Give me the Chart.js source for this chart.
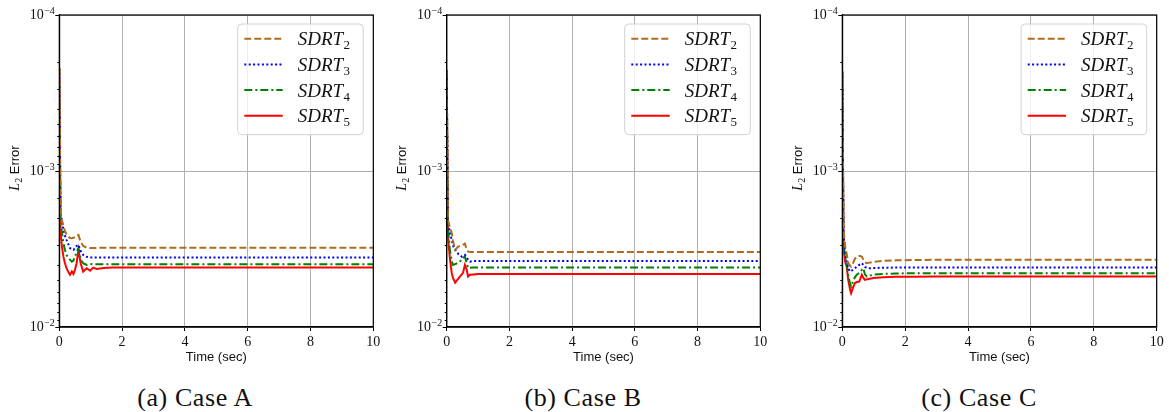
<!DOCTYPE html>
<html>
<head>
<meta charset="utf-8">
<script src="https://cdn.jsdelivr.net/npm/chart.js@4/dist/chart.umd.min.js"></script>
<style>
  body { margin: 0; background: #fff; width: 1169px; height: 412px; position: relative; overflow: hidden; }
  canvas { position: absolute; top: 0; }
  .cap { position: absolute; top: 384px; width: 200px; text-align: center; line-height: 28px;
         font-family: "Liberation Serif", serif; font-size: 26px; letter-spacing: 0.6px; color: #111; }
</style>
</head>
<body>
<canvas id="caseA" width="390" height="375" style="left:0px"></canvas>
<canvas id="caseB" width="390" height="375" style="left:387px"></canvas>
<canvas id="caseC" width="386" height="375" style="left:783px"></canvas>
<div class="cap" style="left:95px">(a) Case A</div>
<div class="cap" style="left:483px">(b) Case B</div>
<div class="cap" style="left:879px">(c) Case C</div>
<script>
// series labels and axis ticks
var labels = ['SDRT2', 'SDRT3', 'SDRT4', 'SDRT5'];
var xTicks = [0, 2, 4, 6, 8, 10];
var decades = [1e-4, 1e-3, 1e-2];
var captions = ['(a) Case A', '(b) Case B', '(c) Case C'];

// Case A
var timeA  = [0, 0.04, 0.08, 0.13, 0.18, 0.23, 0.29, 0.34, 0.4, 0.45, 0.5, 0.55, 0.61, 0.68, 0.76, 0.87, 0.98, 1.08, 1.19, 1.4, 1.7, 2.0, 10];
var sdrt2A = [2.2e-4, 1.8e-3, 2.05e-3, 2.27e-3, 2.42e-3, 2.54e-3, 2.64e-3, 2.69e-3, 2.7e-3, 2.68e-3, 2.66e-3, 2.6e-3, 2.57e-3, 2.85e-3, 3.02e-3, 3.1e-3, 3.12e-3, 3.12e-3, 3.11e-3, 3.1e-3, 3.1e-3, 3.1e-3, 3.1e-3];
var sdrt3A = [2.2e-4, 1.9e-3, 2.06e-3, 2.38e-3, 2.6e-3, 2.76e-3, 2.95e-3, 3.12e-3, 3.18e-3, 3.2e-3, 3.12e-3, 3.02e-3, 2.97e-3, 3.25e-3, 3.45e-3, 3.55e-3, 3.58e-3, 3.58e-3, 3.58e-3, 3.58e-3, 3.58e-3, 3.58e-3, 3.58e-3];
var sdrt4A = [2.2e-4, 2.2e-3, 2.44e-3, 2.9e-3, 3.2e-3, 3.45e-3, 3.62e-3, 3.7e-3, 3.81e-3, 3.75e-3, 3.54e-3, 3.3e-3, 3.12e-3, 3.7e-3, 3.9e-3, 4.0e-3, 3.95e-3, 3.97e-3, 3.96e-3, 3.96e-3, 3.96e-3, 3.96e-3, 3.96e-3];
var sdrt5A = [2.2e-4, 2.5e-3, 3.0e-3, 3.54e-3, 3.9e-3, 4.2e-3, 4.45e-3, 4.63e-3, 4.41e-3, 4.57e-3, 4.3e-3, 3.9e-3, 3.2e-3, 3.9e-3, 4.41e-3, 4.2e-3, 4.35e-3, 4.16e-3, 4.25e-3, 4.18e-3, 4.16e-3, 4.15e-3, 4.15e-3];

// Case B
var timeB  = [0, 0.04, 0.1, 0.16, 0.2, 0.27, 0.37, 0.42, 0.48, 0.52, 0.58, 0.64, 0.68, 0.74, 0.85, 1.0, 1.5, 2.0, 10];
var sdrt2B = [2.25e-4, 2.05e-3, 2.3e-3, 2.49e-3, 2.8e-3, 3.2e-3, 3.05e-3, 3.02e-3, 2.99e-3, 2.97e-3, 2.92e-3, 3.2e-3, 3.28e-3, 3.3e-3, 3.31e-3, 3.31e-3, 3.31e-3, 3.31e-3, 3.31e-3];
var sdrt3B = [2.25e-4, 2.1e-3, 2.5e-3, 2.75e-3, 3.0e-3, 3.2e-3, 3.4e-3, 3.45e-3, 3.54e-3, 3.5e-3, 3.45e-3, 3.6e-3, 3.7e-3, 3.81e-3, 3.78e-3, 3.77e-3, 3.77e-3, 3.77e-3, 3.77e-3];
var sdrt4B = [2.25e-4, 2.3e-3, 3.2e-3, 3.8e-3, 4.0e-3, 3.95e-3, 3.88e-3, 3.8e-3, 3.7e-3, 3.6e-3, 3.54e-3, 3.9e-3, 4.18e-3, 4.17e-3, 4.16e-3, 4.16e-3, 4.16e-3, 4.16e-3, 4.16e-3];
var sdrt5B = [2.25e-4, 2.63e-3, 3.6e-3, 4.5e-3, 4.84e-3, 5.19e-3, 4.9e-3, 4.75e-3, 4.6e-3, 4.5e-3, 4.0e-3, 4.3e-3, 4.75e-3, 4.62e-3, 4.6e-3, 4.58e-3, 4.58e-3, 4.58e-3, 4.58e-3];

// Case C
var timeC  = [0, 0.04, 0.09, 0.14, 0.19, 0.25, 0.28, 0.34, 0.4, 0.46, 0.54, 0.62, 0.67, 0.72, 0.78, 0.83, 1.0, 1.3, 1.7, 2.2, 3, 10];
var sdrt2C = [2.3e-4, 2.4e-3, 3.05e-3, 3.4e-3, 3.9e-3, 4.05e-3, 4.1e-3, 3.9e-3, 3.65e-3, 3.54e-3, 3.5e-3, 3.54e-3, 3.7e-3, 3.85e-3, 3.9e-3, 3.88e-3, 3.82e-3, 3.77e-3, 3.74e-3, 3.72e-3, 3.71e-3, 3.71e-3];
var sdrt3C = [2.3e-4, 2.6e-3, 3.35e-3, 3.8e-3, 4.2e-3, 4.41e-3, 4.38e-3, 4.3e-3, 4.2e-3, 4.1e-3, 4.0e-3, 3.9e-3, 4.0e-3, 4.12e-3, 4.18e-3, 4.2e-3, 4.19e-3, 4.17e-3, 4.16e-3, 4.16e-3, 4.16e-3, 4.16e-3];
var sdrt4C = [2.3e-4, 2.9e-3, 3.6e-3, 3.9e-3, 4.7e-3, 5.3e-3, 5.51e-3, 5.1e-3, 4.8e-3, 4.63e-3, 4.5e-3, 4.3e-3, 4.2e-3, 4.6e-3, 4.75e-3, 4.7e-3, 4.62e-3, 4.57e-3, 4.54e-3, 4.52e-3, 4.52e-3, 4.52e-3];
var sdrt5C = [2.3e-4, 3.1e-3, 3.8e-3, 4.1e-3, 5.0e-3, 5.8e-3, 6.07e-3, 5.6e-3, 5.24e-3, 5.15e-3, 5.11e-3, 4.63e-3, 4.85e-3, 4.99e-3, 4.95e-3, 4.92e-3, 4.85e-3, 4.8e-3, 4.77e-3, 4.76e-3, 4.75e-3, 4.75e-3];

// line styles
var colors = ['#b06c1c', '#0000ff', '#008000', '#ff0000'];
var dashes = [[7, 3], [2, 2.4], [8, 3, 2, 3], []];

function isDecade(v) {
  var l = Math.log10(v);
  return Math.abs(l - Math.round(l)) < 1e-6;
}

// frame, legend, y ticks and y title
var decor = {
  id: 'decor',
  afterDatasetsDraw: function (chart) {
    var ctx = chart.ctx, a = chart.chartArea;
    ctx.save();
    ctx.strokeStyle = '#000';
    ctx.lineWidth = 1.2;
    ctx.strokeRect(a.left, a.top, a.right - a.left, a.bottom - a.top);

    // legend box
    var bx = a.right - 135.6, by = a.top + 9, bw = 125.6, bh = 110.7, r = 4;
    ctx.beginPath();
    ctx.moveTo(bx + r, by);
    ctx.arcTo(bx + bw, by, bx + bw, by + bh, r);
    ctx.arcTo(bx + bw, by + bh, bx, by + bh, r);
    ctx.arcTo(bx, by + bh, bx, by, r);
    ctx.arcTo(bx, by, bx + bw, by, r);
    ctx.closePath();
    ctx.fillStyle = 'rgba(255,255,255,0.8)';
    ctx.fill();
    ctx.strokeStyle = '#d2d2d2';
    ctx.lineWidth = 1;
    ctx.stroke();

    chart.data.datasets.forEach(function (ds, i) {
      var cy = by + 14.7 + i * 25.7;
      ctx.beginPath();
      ctx.setLineDash(ds.borderDash);
      ctx.strokeStyle = ds.borderColor;
      ctx.lineWidth = 2;
      ctx.moveTo(bx + 6.6, cy);
      ctx.lineTo(bx + 45, cy);
      ctx.stroke();
      ctx.setLineDash([]);
      var base = ds.label.slice(0, -1), sub = ds.label.slice(-1);
      ctx.fillStyle = '#111';
      ctx.textBaseline = 'alphabetic';
      ctx.textAlign = 'left';
      ctx.font = 'italic 19px "Liberation Serif"';
      ctx.fillText(base, bx + 60, cy + 6.5);
      var w = ctx.measureText(base).width;
      ctx.font = '13px "Liberation Serif"';
      ctx.fillText(sub, bx + 60 + w + 0.5, cy + 10.5);
    });
    ctx.restore();
  },
  afterDraw: function (chart) {
    var ctx = chart.ctx, a = chart.chartArea, ys = chart.scales.y;
    ctx.save();
    ctx.strokeStyle = '#000';
    ctx.lineWidth = 1;
    ys.ticks.forEach(function (t) {
      var y = Math.round(ys.getPixelForValue(t.value)) + 0.5;
      var len = isDecade(t.value) ? 4 : 2;
      ctx.beginPath();
      ctx.moveTo(a.left - len, y);
      ctx.lineTo(a.left, y);
      ctx.stroke();
    });
    ctx.fillStyle = '#111';
    decades.forEach(function (d) {
      var y = ys.getPixelForValue(d);
      var sup = '\u2212' + Math.abs(Math.round(Math.log10(d)));
      var right = a.left - 4.5;
      ctx.font = '10px "Liberation Serif"';
      ctx.textAlign = 'right';
      ctx.textBaseline = 'middle';
      var ws = ctx.measureText(sup).width;
      ctx.fillText(sup, right, y - 4);
      ctx.font = '14px "Liberation Serif"';
      ctx.fillText('10', right - ws - 0.5, y + 0.5);
    });

    // y title: L_2 Error
    var cx = 15, cy = (a.top + a.bottom) / 2 - 3;
    ctx.translate(cx, cy);
    ctx.rotate(-Math.PI / 2);
    ctx.textAlign = 'left';
    ctx.textBaseline = 'middle';
    ctx.font = 'italic 14px "Liberation Serif"';
    var wL = ctx.measureText('L').width;
    ctx.font = '10px "Liberation Serif"';
    var w2 = ctx.measureText('2').width;
    ctx.font = '13px "Liberation Sans"';
    var wE = ctx.measureText(' Error').width;
    var x0 = -(wL + w2 + wE) / 2;
    ctx.font = 'italic 14px "Liberation Serif"';
    ctx.fillText('L', x0, 0);
    ctx.font = '10px "Liberation Serif"';
    ctx.fillText('2', x0 + wL, 4);
    ctx.font = '13px "Liberation Sans"';
    ctx.fillText(' Error', x0 + wL + w2, 0);
    ctx.restore();
  }
};

function makeChart(id, time, series, axisW, padRight) {
  return new Chart(document.getElementById(id), {
    type: 'line',
    data: {
      datasets: series.map(function (vals, i) {
        return {
          label: labels[i],
          data: time.map(function (t, k) { return { x: t, y: vals[k] }; }),
          borderColor: colors[i],
          borderDash: dashes[i],
          borderWidth: 2,
          pointRadius: 0,
          tension: 0,
          fill: false
        };
      })
    },
    options: {
      responsive: false,
      animation: false,
      layout: { padding: { top: 15, right: padRight, left: 0, bottom: 0 } },
      plugins: { legend: { display: false }, tooltip: { enabled: false } },
      scales: {
        x: {
          type: 'linear', min: 0, max: 10,
          afterBuildTicks: function (s) { s.ticks = xTicks.map(function (v) { return { value: v }; }); },
          afterFit: function (s) { s.height = 48; },
          ticks: { color: '#111', padding: 3, font: { family: '"Liberation Serif"', size: 14 } },
          grid: { color: '#b0b0b0', lineWidth: 1, tickColor: '#000', tickLength: 4 },
          border: { color: '#000', width: 1.2 },
          title: { display: true, text: 'Time (sec)', color: '#111', padding: { top: 4, bottom: 10 },
                   font: { family: '"Liberation Sans"', size: 13 } }
        },
        y: {
          type: 'logarithmic', reverse: true, min: 1e-4, max: 1e-2,
          afterFit: function (s) { s.width = axisW; },
          ticks: { display: false },
          grid: {
            drawTicks: false, lineWidth: 1,
            color: function (c) { return c.tick && isDecade(c.tick.value) ? '#b0b0b0' : 'rgba(0,0,0,0)'; }
          },
          border: { color: '#000', width: 1.2 }
        }
      }
    },
    plugins: [decor]
  });
}

makeChart('caseA', timeA, [sdrt2A, sdrt3A, sdrt4A, sdrt5A], 59.3, 16.7);
makeChart('caseB', timeB, [sdrt2B, sdrt3B, sdrt4B, sdrt5B], 59.7, 16.7);
makeChart('caseC', timeC, [sdrt2C, sdrt3C, sdrt4C, sdrt5C], 59.3, 12.3);
</script>
</body>
</html>
